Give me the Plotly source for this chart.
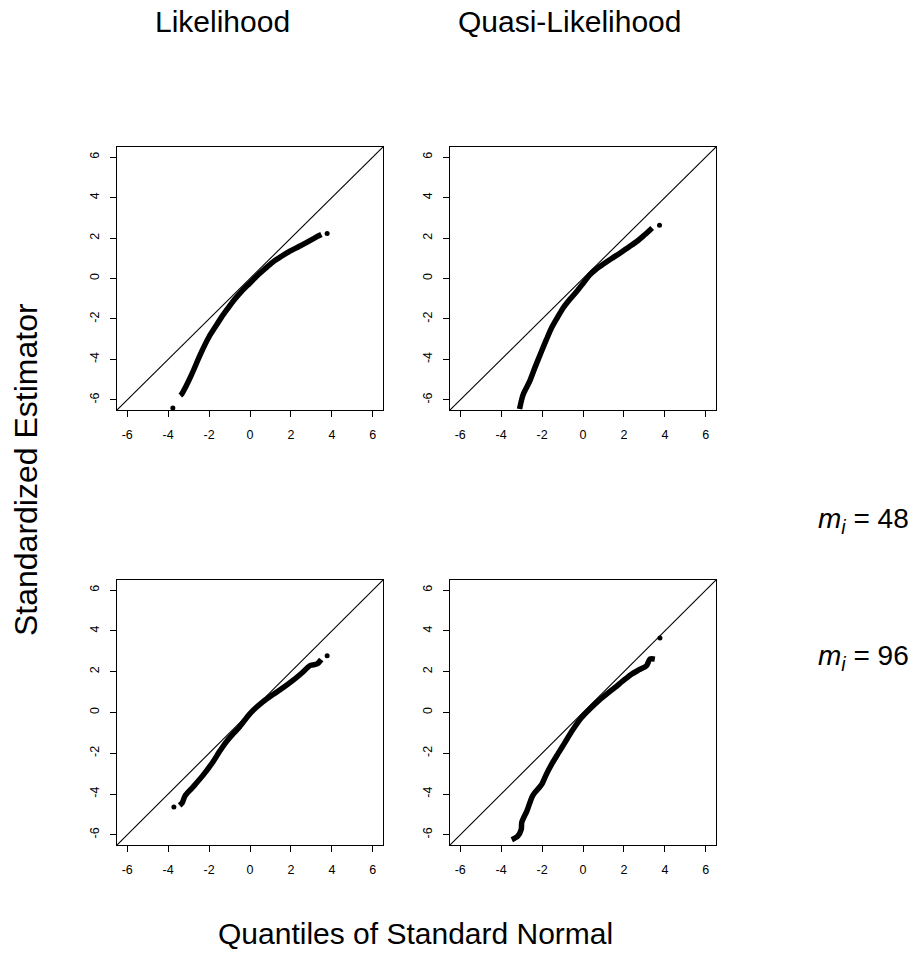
import plotly.graph_objects as go

# ---- data ----
col_titles = ["Likelihood", "Quasi-Likelihood"]
row_labels = ["48", "96"]
tick_vals = [-6, -4, -2, 0, 2, 4, 6]
tick_text = ["-6", "-4", "-2", "0", "2", "4", "6"]
ref_line = [-6.5, 6.5]

# Likelihood, m_i = 48
l48_x = [-3.41, -3.33, -3.11, -2.90, -2.75, -2.42, -2.0, -1.70, -1.43, -1.10, -0.77, -0.40, 0.0, 0.35, 0.72, 1.10, 1.54, 1.95, 2.37, 2.80, 3.19, 3.49]
l48_y = [-5.78, -5.70, -5.29, -4.85, -4.51, -3.74, -2.88, -2.40, -1.97, -1.50, -1.05, -0.62, -0.22, 0.14, 0.47, 0.80, 1.10, 1.35, 1.57, 1.80, 2.02, 2.17]
l48_out_x = [-3.77, 3.77]
l48_out_y = [-6.40, 2.22]

# Quasi-Likelihood, m_i = 48
q48_x = [-3.10, -2.93, -2.61, -2.36, -2.03, -1.78, -1.54, -1.25, -0.97, -0.64, -0.31, 0.02, 0.34, 0.65, 1.0, 1.40, 1.82, 2.23, 2.64, 3.0, 3.38]
q48_y = [-6.45, -5.75, -5.09, -4.43, -3.61, -3.0, -2.45, -1.93, -1.46, -1.03, -0.64, -0.22, 0.19, 0.47, 0.72, 0.99, 1.26, 1.55, 1.84, 2.15, 2.50]
q48_out_x = [3.74]
q48_out_y = [2.63]

# Likelihood, m_i = 96
l96_x = [-3.44, -3.31, -3.18, -2.82, -2.32, -1.83, -1.50, -1.17, -0.85, -0.51, 0.0, 0.64, 1.05, 1.47, 2.13, 2.55, 2.95, 3.28, 3.48]
l96_y = [-4.56, -4.43, -4.10, -3.69, -3.11, -2.45, -1.93, -1.45, -1.07, -0.71, -0.05, 0.53, 0.83, 1.11, 1.60, 1.95, 2.31, 2.38, 2.60]
l96_out_x = [-3.72, 3.77]
l96_out_y = [-4.63, 2.79]

# Quasi-Likelihood, m_i = 96
q96_x = [-3.48, -3.19, -3.02, -2.99, -2.73, -2.45, -2.04, -1.80, -1.55, -1.22, -0.90, -0.50, -0.08, 0.33, 0.74, 1.15, 1.55, 1.95, 2.37, 2.75, 3.10, 3.27, 3.51]
q96_y = [-6.24, -6.07, -5.74, -5.38, -4.80, -4.06, -3.56, -3.05, -2.57, -2.02, -1.50, -0.85, -0.26, 0.17, 0.56, 0.90, 1.22, 1.55, 1.88, 2.10, 2.29, 2.62, 2.62]
q96_out_x = [3.76]
q96_out_y = [3.66]

panels = [
    (l48_x, l48_y, l48_out_x, l48_out_y),
    (q48_x, q48_y, q48_out_x, q48_out_y),
    (l96_x, l96_y, l96_out_x, l96_out_y),
    (q96_x, q96_y, q96_out_x, q96_out_y),
]

W, H = 916, 956
col_px = [(117, 383), (450, 716)]
row_px = [(147, 410), (580, 845)]

fig = go.Figure()
font = "Liberation Sans, Arial, Helvetica, sans-serif"

layout = dict(
    width=W, height=H, margin=dict(l=0, r=0, t=0, b=0),
    paper_bgcolor="white", plot_bgcolor="white", showlegend=False,
    font=dict(family=font, color="black"),
)

for i, (cx, cy, ox, oy) in enumerate(panels):
    r, c = divmod(i, 2)
    n = i + 1
    xa = "x" if n == 1 else f"x{n}"
    ya = "y" if n == 1 else f"y{n}"
    fig.add_trace(go.Scatter(x=ref_line, y=ref_line, mode="lines",
                             line=dict(color="black", width=1.1),
                             xaxis=xa, yaxis=ya, hoverinfo="skip"))
    fig.add_trace(go.Scatter(x=cx, y=cy, mode="lines",
                             line=dict(color="black", width=5.5, shape="spline", smoothing=0.8),
                             xaxis=xa, yaxis=ya))
    fig.add_trace(go.Scatter(x=ox, y=oy, mode="markers",
                             marker=dict(color="black", size=5),
                             xaxis=xa, yaxis=ya))
    x0, x1 = col_px[c]
    y0, y1 = row_px[r]
    common = dict(
        range=[-6.5, 6.5], tickmode="array", tickvals=tick_vals, ticktext=tick_text,
        ticks="outside", ticklen=6, tickwidth=1.2, tickcolor="black",
        showline=True, mirror=True, linecolor="black", linewidth=1.4,
        showgrid=False, zeroline=False, tickfont=dict(size=12.5, family=font, color="black"),
        fixedrange=True,
    )
    layout["xaxis" if n == 1 else f"xaxis{n}"] = dict(
        common, domain=[x0 / W, x1 / W], anchor=ya, ticklabelstandoff=7)
    layout["yaxis" if n == 1 else f"yaxis{n}"] = dict(
        common, domain=[1 - y1 / H, 1 - y0 / H], anchor=xa, tickangle=-90, ticklabelstandoff=6)

fig.update_layout(**layout)

big = dict(size=30, family=font, color="black")
ann = []
for cxp, t in zip([222, 569], col_titles):
    ann.append(dict(text=t, x=cxp / W, y=1 - 22 / H, xref="paper", yref="paper",
                    showarrow=False, font=big, xanchor="center", yanchor="middle"))
ann.append(dict(text="Quantiles of Standard Normal", x=415 / W, y=1 - 933 / H,
                xref="paper", yref="paper", showarrow=False, font=big,
                xanchor="center", yanchor="middle"))
ann.append(dict(text="Standardized Estimator", x=26 / W, y=1 - 470 / H,
                xref="paper", yref="paper", showarrow=False,
                font=dict(size=32, family=font, color="black"), textangle=-90,
                xanchor="center", yanchor="middle"))
for ry, lab in zip([520, 657], row_labels):
    ann.append(dict(text=f"<i>m</i><sub><i>i</i></sub> = {lab}", x=911 / W, y=1 - ry / H,
                    xref="paper", yref="paper", showarrow=False,
                    font=dict(size=28, family=font, color="black"),
                    xanchor="right", yanchor="middle"))
fig.update_layout(annotations=ann)

fig.write_html("out.html")
